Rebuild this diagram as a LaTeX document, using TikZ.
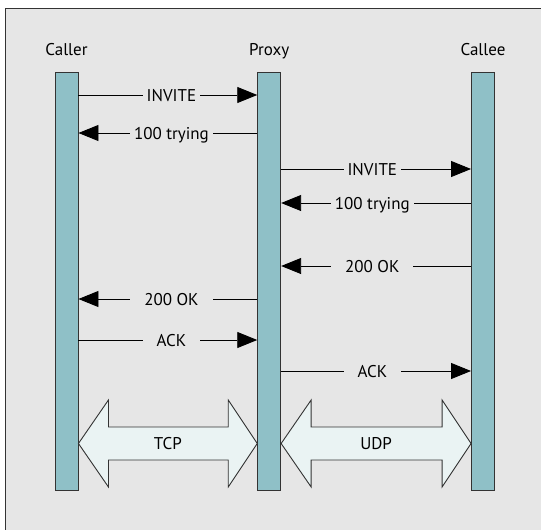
\documentclass[tikz,border=0pt]{standalone}
\usepackage{fontspec}
\setmainfont{PT Sans}
\usetikzlibrary{arrows.meta, calc, positioning}

\definecolor{panelgray}{HTML}{E6E6E6}
\definecolor{barteal}{HTML}{8FC0C7}
\definecolor{pipefill}{HTML}{EAF3F3}
\definecolor{edgegray}{HTML}{333333}

\tikzset{
  lifeline/.style={draw=edgegray, line width=0.9pt, fill=barteal,
    minimum width=23pt, minimum height=418pt, inner sep=0pt},
  actor/.style={font=\fontsize{17}{20}\selectfont, text height=12pt,
    text depth=4pt, inner sep=0pt},
  msg/.style={line width=0.9pt, -{Triangle[length=20pt,width=16pt]}},
  msglabel/.style={fill=panelgray, font=\fontsize{17}{20}\selectfont,
    text height=12pt, text depth=0pt, inner xsep=4pt, inner ysep=3pt},
  widelabel/.style={msglabel, inner xsep=14pt},
  pipe/.style={draw=edgegray, line width=0.9pt, fill=pipefill, line join=miter},
}

% double headed pipe between two points: from, to, name, label
\newcommand{\pipearrow}[4]{%
  \draw[pipe] let \p1=(#1), \p2=(#2) in
    (\p1) -- (\x1+30pt,\y1+43.5pt) -- (\x1+30pt,\y1+16.5pt)
    -- (\x2-29pt,\y1+16.5pt) -- (\x2-29pt,\y1+43.5pt) -- (\p2)
    -- (\x2-29pt,\y1-43.5pt) -- (\x2-29pt,\y1-16.5pt)
    -- (\x1+30pt,\y1-16.5pt) -- (\x1+30pt,\y1-43.5pt) -- cycle;
  \node[msglabel, fill=none] (#3) at ($(#1)!0.5!(#2)$) {#4};
}

\begin{document}
\begin{tikzpicture}[x=1pt, y=-1pt]

  % -------------------------
  % Panel
  % -------------------------
  \useasboundingbox (0,0) rectangle (541,530);
  \fill[white] (0,0) rectangle (541,530);
  \fill[panelgray] (5,8) rectangle (541,530);
  \draw[edgegray, line width=1pt] (5,530) -- (5,8) -- (541,8);

  % Lifelines
  \node[lifeline] (caller) at (66.5,281) {};
  \node[lifeline] (proxy)  at (269.2,281) {};
  \node[lifeline] (callee) at (483,281) {};

  % Names
  \node[actor, above=12pt of caller] (callername) {Caller};
  \node[actor, above=12pt of proxy]  (proxyname)  {Proxy};
  \node[actor, above=12pt of callee] (calleename) {Callee};

  % -------------------------
  % Messages
  % -------------------------
  \draw[msg] (caller.east |- 0,95) -- (proxy.west |- 0,95)
    node[msglabel, pos=0.52] (m1) {INVITE};
  \draw[msg] (proxy.west |- 0,133) -- (caller.east |- 0,133)
    node[msglabel, pos=0.48] (m2) {100 trying};

  \draw[msg] (proxy.east |- 0,169) -- (callee.west |- 0,169)
    node[msglabel, pos=0.48] (m3) {INVITE};
  \draw[msg] (callee.west |- 0,203) -- (proxy.east |- 0,203)
    node[msglabel, pos=0.52] (m4) {100 trying};

  \draw[msg] (callee.west |- 0,266) -- (proxy.east |- 0,266)
    node[widelabel, pos=0.52] (m5) {200 OK};
  \draw[msg] (proxy.west |- 0,299) -- (caller.east |- 0,299)
    node[widelabel, pos=0.48] (m6) {200 OK};

  \draw[msg] (caller.east |- 0,340) -- (proxy.west |- 0,340)
    node[widelabel, pos=0.52] (m7) {ACK};
  \draw[msg] (proxy.east |- 0,371) -- (callee.west |- 0,371)
    node[widelabel, pos=0.48] (m8) {ACK};

  % -------------------------
  % Transports
  % -------------------------
  \coordinate (tcpL) at (caller.east |- 0,443.5);
  \coordinate (tcpR) at (proxy.west |- 0,443.5);
  \coordinate (udpL) at (proxy.east |- 0,443.5);
  \coordinate (udpR) at (callee.west |- 0,443.5);
  \pipearrow{tcpL}{tcpR}{tcp}{TCP}
  \pipearrow{udpL}{udpR}{udp}{UDP}
\end{tikzpicture}
\end{document}
